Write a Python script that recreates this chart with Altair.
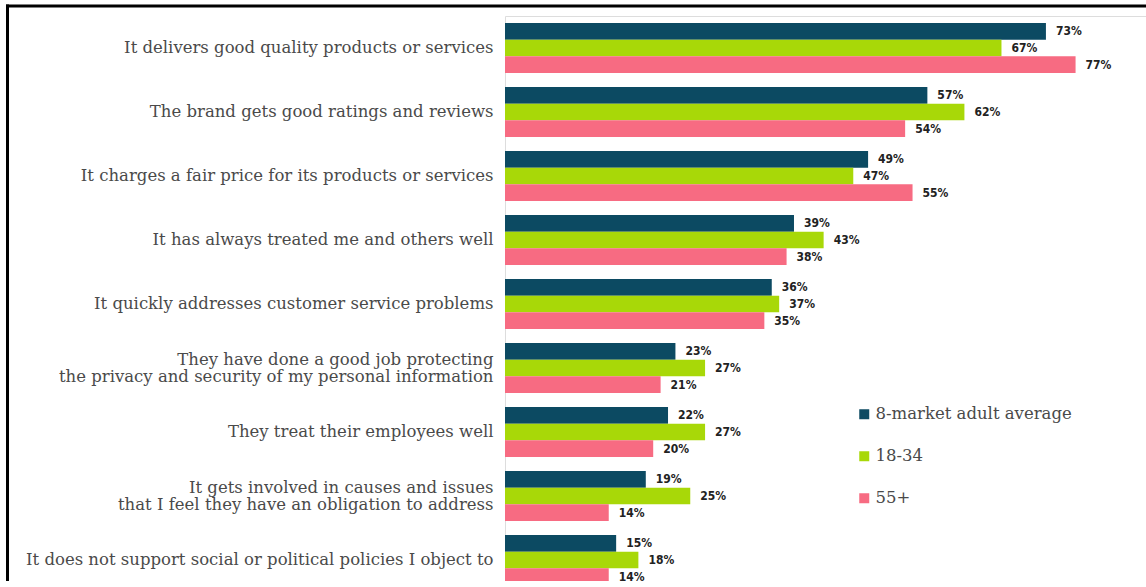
import altair as alt
import pandas as pd

categories = [
    "It delivers good quality products or services",
    "The brand gets good ratings and reviews",
    "It charges a fair price for its products or services",
    "It has always treated me and others well",
    "It quickly addresses customer service problems",
    "They have done a good job protecting|the privacy and security of my personal information",
    "They treat their employees well",
    "It gets involved in causes and issues|that I feel they have an obligation to address",
    "It does not support social or political policies I object to",
]
series = ["8-market adult average", "18-34", "55+"]
avg_values = [73, 57, 49, 39, 36, 23, 22, 19, 15]
young_values = [67, 62, 47, 43, 37, 27, 27, 25, 18]
old_values = [77, 54, 55, 38, 35, 21, 20, 14, 14]
colors = ["#0c4a62", "#a8d808", "#f76b82"]

rows = []
for vals, s in zip([avg_values, young_values, old_values], series):
    for c, v in zip(categories, vals):
        rows.append({"category": c, "series": s, "value": v, "label": f"{v}%"})
df = pd.DataFrame(rows)

W = 641
H = 565

y_enc = alt.Y(
    "category:N",
    sort=categories,
    scale=alt.Scale(range=[0, 576], paddingInner=0.22, paddingOuter=0.11),
    axis=alt.Axis(
        title=None,
        ticks=False,
        domain=False,
        grid=False,
        labelPadding=12,
        labelFont="DejaVu Serif",
        labelFontSize=16.5,
        labelColor="#4a4a4a",
        labelLimit=600,
        labelLineHeight=17,
        labelExpr="split(datum.label, '|')",
        labelOffset={
            "condition": {"test": "indexof(datum.value, '|') >= 0", "value": -8.5},
            "value": 0,
        },
    ),
)
yoff = alt.YOffset("series:N", sort=series, scale=alt.Scale(paddingInner=0, paddingOuter=0))
x_enc = alt.X(
    "value:Q",
    scale=alt.Scale(domain=[0, W / 7.41], nice=False, zero=True),
    axis=None,
)

base = alt.Chart(df)
bars = base.mark_bar().encode(
    x=x_enc,
    y=y_enc,
    yOffset=yoff,
    color=alt.Color(
        "series:N",
        sort=series,
        scale=alt.Scale(domain=series, range=colors),
        legend=alt.Legend(
            title=None,
            orient="none",
            legendX=351,
            legendY=390,
            symbolType="square",
            symbolSize=100,
            symbolStrokeWidth=0,
            labelFont="DejaVu Serif",
            labelFontSize=16.5,
            labelColor="#4a4a4a",
            labelLimit=400,
            labelOffset=3,
            rowPadding=25,
        ),
    ),
)
texts = base.mark_text(
    align="left",
    baseline="middle",
    dx=10,
    font="Liberation Sans Narrow, DejaVu Sans Condensed, sans-serif",
    fontWeight="bold",
    fontSize=12,
    color="#222222",
).encode(
    x=x_enc,
    y=y_enc,
    yOffset=yoff,
    text="label:N",
)

frame_df = pd.DataFrame({"a": [0]})
left_rule = alt.Chart(frame_df).mark_rule(color="black", strokeWidth=3).encode(
    x=alt.value(-497.5), y=alt.value(-11.5), y2=alt.value(600)
)
top_rule = alt.Chart(frame_df).mark_rule(color="black", strokeWidth=3).encode(
    x=alt.value(-499), x2=alt.value(W), y=alt.value(-10)
)

chart = (
    alt.layer(bars, texts, left_rule, top_rule)
    .properties(
        width=W,
        height=H,
        autosize=alt.AutoSizeParams(type="none"),
        padding={"left": 505, "top": 16, "right": 0, "bottom": 0},
    )
    .configure_view(stroke="transparent", strokeWidth=0)
    .configure_axis(grid=False, domain=False)
    .configure(background="white")
)

chart.save("out.html", embed_options={"renderer": "svg", "actions": False})
